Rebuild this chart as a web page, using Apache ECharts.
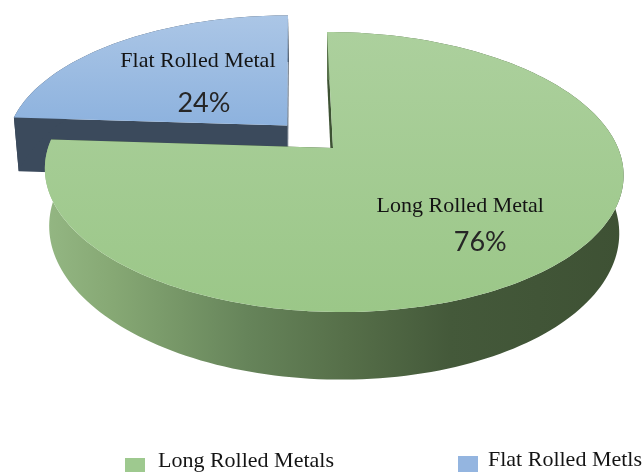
<!DOCTYPE html>
<html>
<head>
<meta charset="utf-8">
<script src="https://cdn.jsdelivr.net/npm/echarts@6/dist/echarts.min.js"></script>
<style>
  html, body { margin: 0; padding: 0; background: #fff; }
  #chart { width: 644px; height: 472px; }
</style>
</head>
<body>
<div id="chart"></div>
<script>
// Product mix shares
const categories = ['Long Rolled Metal', 'Flat Rolled Metal'];
const shares = [76, 24];
const legendNames = ['Long Rolled Metals', 'Flat Rolled Metls'];

// Look of each slice (same order as the data)
const sliceStyle = [
  { topFrom: '#acd09d', topTo: '#9bc788', side: null, face: '#3d5233', explode: 0,
    nameOffset: [9, 0], pctOffset: [29, 36], legend: '#9ec98f' },
  { topFrom: '#abc6e6', topTo: '#8db2de', side: '#3b4a5c', face: '#3b4a5c', explode: 0.235,
    nameOffset: [8, -16], pctOffset: [14, 26], legend: '#94b5e0' }
];

// Projection of the tilted disc
const VIEW = { cx: 333, cy: 148, rx: 285, ry: 135.9, persp: 0.1715, skew: -7, depth: 56 };

function proj(X, V, h) {
  const w = 1 + VIEW.persp * V;
  let x = VIEW.cx + (VIEW.rx * X + VIEW.skew * V) / w;
  const y = VIEW.cy - VIEW.ry * V / w + h * VIEW.depth / w;
  if (h) x = VIEW.cx + (x - VIEW.cx) * 0.985;
  return [x, y];
}

const total = shares.reduce((a, b) => a + b, 0);

function sliceAngles(i) {
  let before = 0;
  for (let j = 0; j < i; j++) before += shares[j];
  const a0 = 90 - 360 * before / total;
  const a1 = 90 - 360 * (before + shares[i]) / total;
  return [a0, a1];
}

function renderSlice(params, api) {
  const i = params.dataIndex;
  const val = api.value(0);
  const st = sliceStyle[i];
  const [a0, a1] = sliceAngles(i);
  const rad = Math.PI / 180;
  const mid = (a0 + a1) / 2 * rad;
  const ox = st.explode * Math.cos(mid);
  const oy = st.explode * Math.sin(mid);
  // draw order: the exploded slice sits behind
  const base = st.explode > 0 ? 0 : 20;

  const n = Math.max(2, Math.ceil(Math.abs(a1 - a0) / 1.5));
  const rimTop = [], rimBot = [];
  for (let t = 0; t <= n; t++) {
    const a = (a0 + (a1 - a0) * t / n) * rad;
    const X = Math.cos(a) + ox, V = Math.sin(a) + oy;
    rimTop.push(proj(X, V, 0));
    rimBot.push(proj(X, V, 1));
  }
  const apexTop = proj(ox, oy, 0);
  const apexBot = proj(ox, oy, 1);

  const children = [];

  // radial cut faces
  [[rimTop[0], rimBot[0]], [rimTop[n], rimBot[n]]].forEach(([pt, pb]) => {
    children.push({
      type: 'polygon', z2: base + 1,
      shape: { points: [apexTop, pt, pb, apexBot] },
      style: { fill: st.face }
    });
  });

  // outer wall
  const sideFill = st.side || new echarts.graphic.LinearGradient(44, 0, 625, 0, [
    { offset: 0, color: '#94b783' },
    { offset: 0.12, color: '#86a874' },
    { offset: 0.35, color: '#66845a' },
    { offset: 0.52, color: '#566f49' },
    { offset: 0.7, color: '#44593a' },
    { offset: 1, color: '#3e5134' }
  ], true);
  children.push({
    type: 'polygon', z2: base + 2,
    shape: { points: rimTop.concat(rimBot.slice().reverse()) },
    style: { fill: sideFill }
  });

  // top surface
  const ys = rimTop.map(p => p[1]).concat([apexTop[1]]);
  const yMin = Math.min.apply(null, ys), yMax = Math.max.apply(null, ys);
  children.push({
    type: 'polygon', z2: base + 3,
    shape: { points: [apexTop].concat(rimTop) },
    style: {
      fill: new echarts.graphic.LinearGradient(0, yMin, 0, yMax, [
        { offset: 0, color: st.topFrom },
        { offset: 1, color: st.topTo }
      ], true)
    }
  });

  // labels
  const lr = 0.55;
  const anchor = proj(lr * Math.cos(mid) + ox, lr * Math.sin(mid) + oy, 0);
  children.push({
    type: 'text', z2: 100,
    x: anchor[0] + st.nameOffset[0], y: anchor[1] + st.nameOffset[1],
    style: {
      text: categories[i], fill: '#141414',
      font: '22px "Liberation Serif", "Times New Roman", serif',
      align: 'center', verticalAlign: 'middle'
    }
  });
  children.push({
    type: 'text', z2: 100,
    x: anchor[0] + st.pctOffset[0], y: anchor[1] + st.pctOffset[1],
    style: {
      text: Math.round(val / total * 100) + '%', fill: '#262626',
      font: '27px Lato, "Liberation Sans", sans-serif',
      align: 'center', verticalAlign: 'middle'
    }
  });

  return { type: 'group', children: children };
}

const chart = echarts.init(document.getElementById('chart'), null, { renderer: 'canvas' });

const legendText = {
  color: '#141414', fontSize: 22,
  fontFamily: '"Liberation Serif", "Times New Roman", serif'
};

// swatches and captions are placed separately: the swatch sits a little low
function swatchLegend(name, left, top) {
  return { data: [name], left: left, top: top, icon: 'rect', itemWidth: 20, itemHeight: 20,
    formatter: () => '', textStyle: legendText, selectedMode: false };
}
function captionLegend(name, left, top) {
  return { data: [name], left: left, top: top, icon: 'none', itemWidth: 1, itemHeight: 20,
    textStyle: legendText, selectedMode: false };
}

chart.setOption({
  animation: false,
  backgroundColor: '#ffffff',
  legend: [
    swatchLegend(legendNames[0], 120, 453),
    captionLegend(legendNames[0], 147, 445),
    swatchLegend(legendNames[1], 453, 451),
    captionLegend(legendNames[1], 477, 444)
  ],
  series: [
    {
      type: 'custom',
      coordinateSystem: 'none',
      silent: true,
      renderItem: renderSlice,
      data: shares.map((v, i) => ({ name: categories[i], value: [v] }))
    },
    {
      // carries the legend entries
      type: 'pie',
      radius: [0, 0],
      center: [-100, -100],
      silent: true,
      label: { show: false },
      labelLine: { show: false },
      data: shares.map((v, i) => ({
        name: legendNames[i], value: v,
        itemStyle: { color: sliceStyle[i].legend }
      }))
    }
  ]
});
</script>
</body>
</html>
